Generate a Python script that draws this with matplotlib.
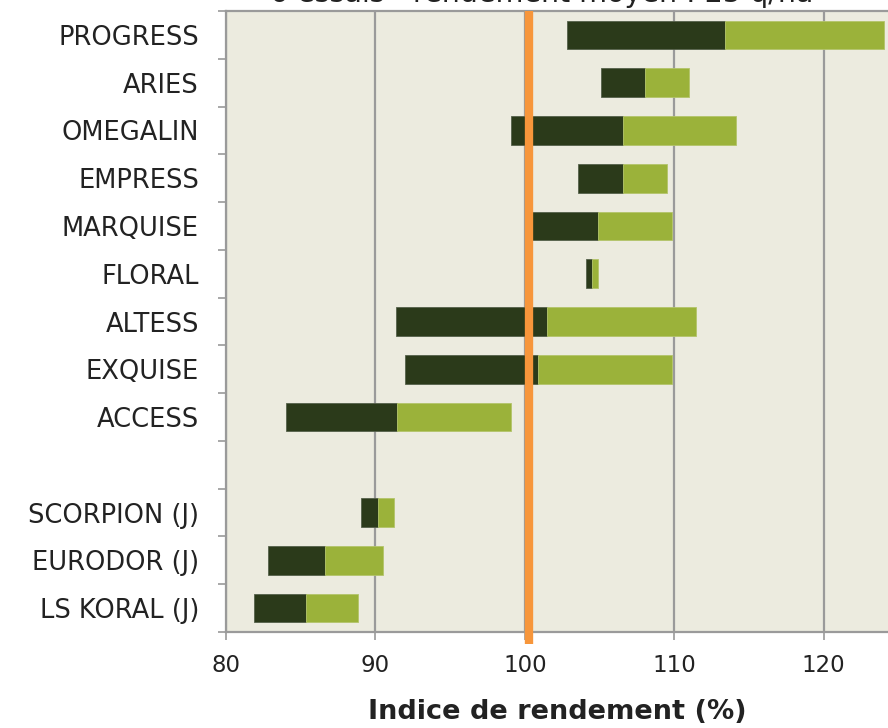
import numpy as np
import matplotlib
matplotlib.use("Agg")
import matplotlib.pyplot as plt
from matplotlib.ticker import FixedLocator

# ---- data (top to bottom; "" = empty separator row) ----
categories = ["PROGRESS", "ARIES", "OMEGALIN", "EMPRESS", "MARQUISE", "FLORAL",
              "ALTESS", "EXQUISE", "ACCESS", "", "SCORPION (J)", "EURODOR (J)",
              "LS KORAL (J)"]
low  = [102.85, 105.1, 99.05, 103.55, 100.0, 104.1, 91.4, 92.0, 84.0, np.nan, 89.05, 82.8, 81.9]
mid  = [113.4, 108.05, 106.55, 106.55, 104.9, 104.5, 101.45, 100.9, 91.45, np.nan, 90.15, 86.65, 85.35]
high = [124.05, 111.0, 114.1, 109.5, 109.85, 104.9, 111.45, 109.85, 99.05, np.nan, 91.25, 90.5, 88.8]
reference = 100.25
x_ticks = [80, 90, 100, 110, 120]
title = "6 essais - rendement moyen : 25 q/ha"
xlabel = "Indice de rendement (%)"

DARK = "#2b3a1a"
LIGHT = "#9bb23a"
ORANGE = "#f7963b"
BG = "#ecebdf"
GRID = "#9a9a9a"

W, H = 888, 728
fig = plt.figure(figsize=(W / 100, H / 100), dpi=100)
ax = fig.add_axes([226 / W, 1 - 632 / H, (888 - 226) / W, (632 - 11) / H])
ax.set_facecolor(BG)

n = len(categories)
ypos = np.arange(n)[::-1]
lo = np.array(low, dtype=float)
md = np.array(mid, dtype=float)
hi = np.array(high, dtype=float)
ok = ~np.isnan(lo)

ax.barh(ypos[ok], md[ok] - lo[ok], left=lo[ok], height=0.6, color=DARK,
        edgecolor="#55604a", linewidth=0.6, zorder=3)
ax.barh(ypos[ok], hi[ok] - md[ok], left=md[ok], height=0.6, color=LIGHT,
        edgecolor="#b3c46a", linewidth=0.6, zorder=3)

ax.axvline(reference, ymin=-0.02, ymax=1.0, color=ORANGE, linewidth=6,
           zorder=5, clip_on=False, solid_capstyle="butt")

ax.set_xlim(80, 124.3)
ax.set_ylim(-0.5, n - 0.5)

ax.set_xticks(x_ticks)
ax.set_xticklabels([str(t) for t in x_ticks])
ax.xaxis.grid(True, color=GRID, linewidth=1.6, zorder=1)
ax.set_axisbelow(True)

ax.set_yticks(ypos)
ax.set_yticklabels(categories)
ax.yaxis.set_minor_locator(FixedLocator(np.arange(-0.5, n, 1.0)))
ax.tick_params(axis="y", which="major", length=0, pad=19.5, labelsize=18.5,
               labelcolor="#222222")
ax.tick_params(axis="y", which="minor", length=6, color=GRID, width=1.2)
ax.tick_params(axis="x", which="major", length=6, color=GRID, width=1.2,
               labelsize=16.5, labelcolor="#222222", pad=10)

for s in ["left", "bottom", "top"]:
    ax.spines[s].set_color(GRID)
    ax.spines[s].set_linewidth(1.6)
ax.spines["right"].set_visible(False)

ax.set_xlabel(xlabel, fontsize=19.5, fontweight="bold", color="#222222", labelpad=16)

fig.text(542 / W, 1 - 2 / H, title, ha="center", va="baseline", fontsize=20.5,
         color="#222222")

fig.savefig("out.png", dpi=100, facecolor="white")
